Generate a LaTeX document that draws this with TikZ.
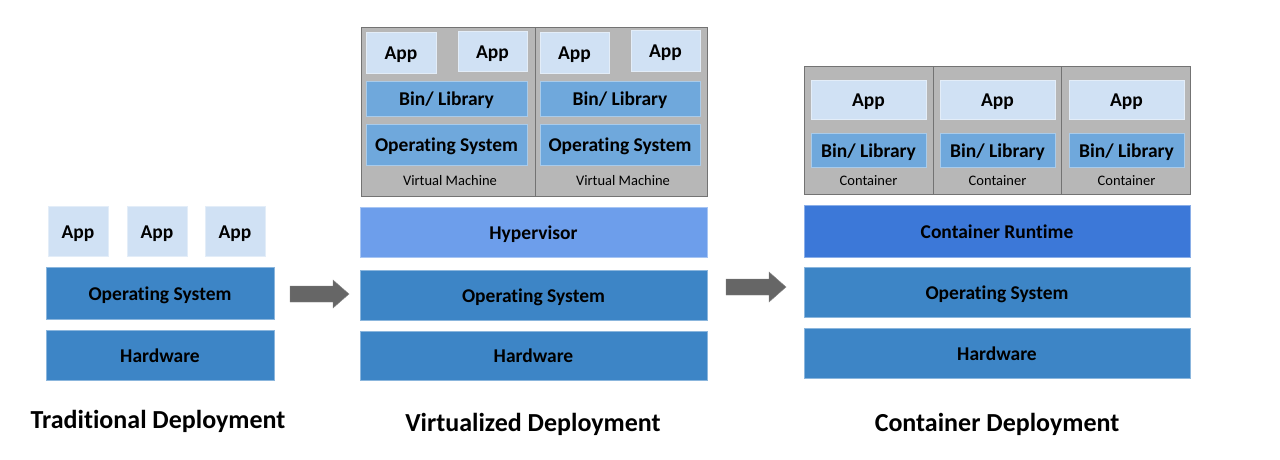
\documentclass[tikz,border=0pt]{standalone}
\usepackage{fontspec}
\setmainfont{Carlito}[Ligatures=NoCommon]
\usetikzlibrary{positioning}
\definecolor{applight}{HTML}{D0E1F4}
\definecolor{midblue}{HTML}{6FA8DC}
\definecolor{osblue}{HTML}{3D85C6}
\definecolor{hypblue}{HTML}{6D9EEB}
\definecolor{rtblue}{HTML}{3C78D8}
\definecolor{vmgray}{HTML}{B7B7B7}
\definecolor{arrowgray}{HTML}{666666}
\tikzset{
  layer/.style={draw=#1!60!white, line width=0.6pt, fill=#1, inner sep=0pt, text height=14pt, text depth=0pt, font=\bfseries\fontsize{19.5}{23}\selectfont},
  sublbl/.style={font=\fontsize{14.5}{17}\selectfont, inner sep=0pt, anchor=base},
  title/.style={font=\bfseries\fontsize{26}{31}\selectfont, inner sep=0pt, anchor=base},
  grayframe/.style={draw=black!55, line width=0.8pt, fill=vmgray},
  bigarrow/.style={fill=arrowgray, draw=arrowgray!80!white, line width=0.4pt}
}
\begin{document}
\begin{tikzpicture}[x=1pt,y=-1pt]
\useasboundingbox (0,0) rectangle (1280,459);
\fill[white] (0,0) rectangle (1280,459);

% ---------- Traditional ----------
\node[layer=applight, minimum width=60pt, minimum height=50pt] (ta1) at (78,231) {App};
\node[layer=applight, minimum width=60pt, minimum height=50pt] (ta2) at (157,231) {App};
\node[layer=applight, minimum width=60pt, minimum height=50pt] (ta3) at (235,231) {App};
\node[layer=osblue, minimum width=228pt, minimum height=52pt] (tos) at (160,293) {Operating System};
\node[layer=osblue, minimum width=228pt, minimum height=50pt] (thw) at (160,355) {Hardware};
\node[title] (tt) at (158,428) {Traditional Deployment};

% arrow 1
\path[bigarrow] (290,286) -- (333,286) -- (333,280) -- (349,294) -- (333,308) -- (333,302) -- (290,302) -- cycle;

% ---------- Virtualized ----------
\draw[grayframe] (361,27) rectangle (707,196);
\draw[black!55, line width=0.8pt] (535,27) -- (535,196);
% VM1
\node[layer=applight, minimum width=70pt, minimum height=41pt] (v1a1) at (401,52.5) {App};
\node[layer=applight, minimum width=69pt, minimum height=40pt] (v1a2) at (492.5,51) {App};
\node[layer=midblue, minimum width=161pt, minimum height=35pt] (v1bin) at (446.5,98.5) {Bin/ Library};
\node[layer=midblue, minimum width=161pt, minimum height=41pt] (v1os) at (446.5,144.5) {Operating System};
\node[sublbl] (v1l) at (450,185) {Virtual Machine};
% VM2
\node[layer=applight, minimum width=69pt, minimum height=41pt] (v2a1) at (574.5,52.5) {App};
\node[layer=applight, minimum width=69pt, minimum height=41pt] (v2a2) at (665.5,50.5) {App};
\node[layer=midblue, minimum width=160pt, minimum height=35pt] (v2bin) at (620,98.5) {Bin/ Library};
\node[layer=midblue, minimum width=160pt, minimum height=41pt] (v2os) at (620,144.5) {Operating System};
\node[sublbl] (v2l) at (623,185) {Virtual Machine};
\node[layer=hypblue, minimum width=347pt, minimum height=50pt] (vhyp) at (533.5,232) {Hypervisor};
\node[layer=osblue, minimum width=347pt, minimum height=50pt] (vos) at (533.5,295) {Operating System};
\node[layer=osblue, minimum width=347pt, minimum height=49pt] (vhw) at (533.5,355.5) {Hardware};
\node[title] (vt) at (533,431) {Virtualized Deployment};

% arrow 2
\path[bigarrow] (726,279) -- (769,279) -- (769,272) -- (786,287) -- (769,302) -- (769,295) -- (726,295) -- cycle;

% ---------- Container ----------
\draw[grayframe] (804,66) rectangle (1190,194);
\draw[black!55, line width=0.8pt] (933,66) -- (933,194);
\draw[black!55, line width=0.8pt] (1061,66) -- (1061,194);
\node[layer=applight, minimum width=115pt, minimum height=39pt] (ca1) at (868.5,99.5) {App};
\node[layer=applight, minimum width=115pt, minimum height=39pt] (ca2) at (997.5,99.5) {App};
\node[layer=applight, minimum width=115pt, minimum height=39pt] (ca3) at (1126.5,99.5) {App};
\node[layer=midblue, minimum width=115pt, minimum height=34pt] (cb1) at (868.5,150) {Bin/ Library};
\node[layer=midblue, minimum width=115pt, minimum height=34pt] (cb2) at (997.5,150) {Bin/ Library};
\node[layer=midblue, minimum width=115pt, minimum height=34pt] (cb3) at (1126.5,150) {Bin/ Library};
\node[sublbl] (cl1) at (868.5,185) {Container};
\node[sublbl] (cl2) at (997.5,185) {Container};
\node[sublbl] (cl3) at (1126.5,185) {Container};
\node[layer=rtblue, minimum width=386pt, minimum height=52pt] (crt) at (997,231) {Container Runtime};
\node[layer=osblue, minimum width=386pt, minimum height=50pt] (cos) at (997,292) {Operating System};
\node[layer=osblue, minimum width=386pt, minimum height=50pt] (chw) at (997,353) {Hardware};
\node[title] (ct) at (997,431) {Container Deployment};
\end{tikzpicture}
\end{document}
